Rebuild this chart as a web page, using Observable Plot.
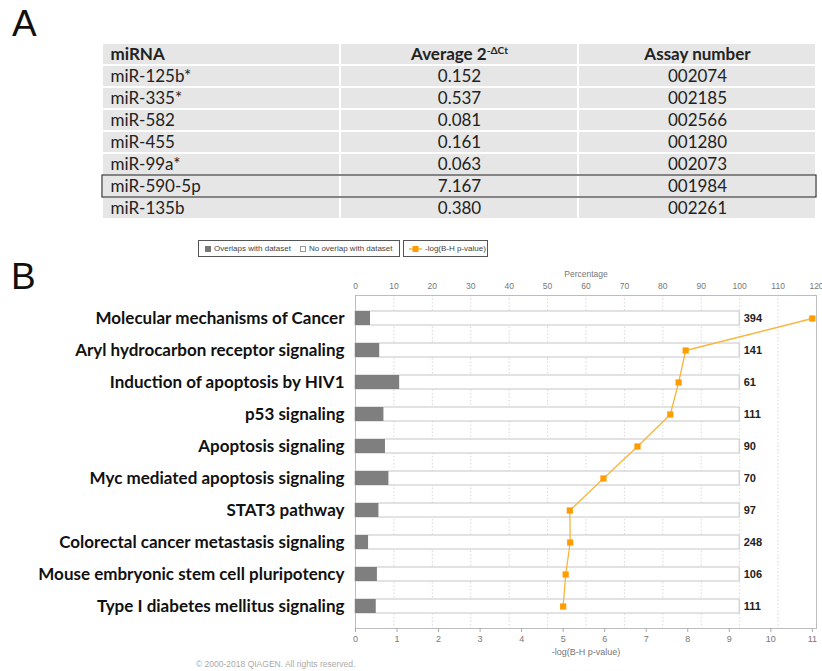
<!DOCTYPE html>
<html>
<head>
<meta charset="utf-8">
<script src="https://cdn.jsdelivr.net/npm/d3@7"></script>
<script src="https://cdn.jsdelivr.net/npm/@observablehq/plot@0.6"></script>
<style>
  html, body { margin: 0; padding: 0; background: #fff; }
  #page { position: relative; width: 822px; height: 671px; overflow: hidden; background: #fff; }
  .panel-letter { position: absolute; font-family: "Liberation Sans", Arial, sans-serif; font-size: 37px; line-height: 37px; color: #111; }
  #tableA { position: absolute; left: 0; top: 0; }
  #chartB { position: absolute; left: 0; top: 258px; }
  .lbox { position: absolute; top: 240px; height: 17px; border: 1px solid #555; box-sizing: border-box;
          display: flex; align-items: center; font-family: "Liberation Sans", Arial, sans-serif; font-size: 8px; color: #444; white-space: nowrap; }
  .sw { display: inline-block; width: 6px; height: 6px; box-sizing: border-box; margin-right: 3px; }
  #copyright { position: absolute; left: 196px; top: 659px; font-family: "Liberation Sans", Arial, sans-serif; font-size: 8.5px; line-height: 10px; color: #aaa; white-space: nowrap; }
</style>
</head>
<body>
<div id="page">
  <div id="tableA"></div>
  <div id="chartB"></div>
  <div class="panel-letter" style="left:12px; top:5px;">A</div>
  <div class="panel-letter" style="left:11px; top:258px;">B</div>
  <div class="lbox" style="left:198px; width:202px; padding-left:6px;">
    <span class="sw" style="background:#777;"></span><span>Overlaps with dataset</span>
    <span class="sw" style="background:#fff; border:1px solid #999; margin-left:9px;"></span><span>No overlap with dataset</span>
  </div>
  <div class="lbox" style="left:403px; width:85px; padding-left:5px;">
    <svg width="13" height="8" style="margin-right:3px;"><line x1="0" y1="4" x2="13" y2="4" stroke="#f8b53c" stroke-width="1.5"/><rect x="3.5" y="1" width="6" height="6" fill="#ff9c00"/></svg><span>-log(B-H p-value)</span>
  </div>
  <div id="copyright">© 2000-2018 QIAGEN. All rights reserved.</div>
</div>
<script>
// ---------- Panel A data ----------
const tableColumns = ["miRNA", "Average 2", "Assay number"];
const mirnas = ["miR-125b*", "miR-335*", "miR-582", "miR-455", "miR-99a*", "miR-590-5p", "miR-135b"];
const avgDeltaCt = [0.152, 0.537, 0.081, 0.161, 0.063, 7.167, 0.380];
const assayNumbers = ["002074", "002185", "002566", "001280", "002073", "001984", "002261"];
const highlightedMirna = "miR-590-5p";

// ---------- Panel B data ----------
const pathways = [
  "Molecular mechanisms of Cancer",
  "Aryl hydrocarbon receptor signaling",
  "Induction of apoptosis by HIV1",
  "p53 signaling",
  "Apoptosis signaling",
  "Myc mediated apoptosis signaling",
  "STAT3 pathway",
  "Colorectal cancer metastasis signaling",
  "Mouse embryonic stem cell pluripotency",
  "Type I diabetes mellitus signaling"
];
const overlapPct = [3.9, 6.3, 11.5, 7.4, 7.8, 8.7, 6.1, 3.4, 5.7, 5.4];
const negLogP = [11.0, 7.95, 7.78, 7.58, 6.79, 5.97, 5.16, 5.17, 5.06, 5.0];
const moleculeCounts = [394, 141, 61, 111, 90, 70, 97, 248, 106, 111];
const pctTicks = [0, 10, 20, 30, 40, 50, 60, 70, 80, 90, 100, 110, 120];
const logTicks = [0, 1, 2, 3, 4, 5, 6, 7, 8, 9, 10, 11];
const pctMax = 120;
const logMax = 11.1;

// ---------- Panel A: table ----------
const rowKeys = ["header", ...mirnas];
const cells = [];
rowKeys.forEach((r, i) => {
  tableColumns.forEach((c, j) => {
    let text;
    if (r === "header") text = c;
    else if (j === 0) text = mirnas[i - 1];
    else if (j === 1) text = avgDeltaCt[i - 1].toFixed(3);
    else text = assayNumbers[i - 1];
    cells.push({row: r, col: c, text, header: r === "header"});
  });
});

const tableFont = "Lato, 'Open Sans', sans-serif";
const tFontSize = 17;
const tablePlot = Plot.plot({
  width: 822,
  height: 224,
  marginTop: 42,
  marginBottom: 4,
  marginLeft: 102,
  marginRight: 6,
  style: {background: "transparent", fontFamily: tableFont, fontSize: "17px", color: "#222"},
  x: {type: "band", domain: tableColumns, padding: 0, axis: null},
  y: {type: "band", domain: rowKeys, padding: 0, axis: null},
  marks: [
    Plot.cell(cells, {x: "col", y: "row", fill: "#e6e6e6", inset: 1}),
    // body rows
    Plot.text(cells.filter(d => !d.header && d.col === "miRNA"), {
      y: "row", text: "text", frameAnchor: "left", dx: 8, fill: "#222", fontSize: tFontSize
    }),
    Plot.text(cells.filter(d => !d.header && d.col !== "miRNA"), {
      x: "col", y: "row", text: "text", fill: "#222", fontSize: tFontSize
    }),
    // header row
    Plot.text(cells.filter(d => d.header && d.col === "miRNA"), {
      y: "row", text: "text", frameAnchor: "left", dx: 8, fill: "#222", fontWeight: "bold", fontSize: tFontSize
    }),
    Plot.text(cells.filter(d => d.header && d.col !== "miRNA"), {
      x: "col", y: "row", text: "text", fill: "#222", fontWeight: "bold", fontSize: tFontSize
    }),
    Plot.cell([highlightedMirna], {y: d => d, fill: "none", stroke: "#333", strokeWidth: 1.2})
  ]
});
// superscript for header "Average 2^-ΔCt"
d3.select(tablePlot).selectAll("text")
  .filter(function() { return this.textContent === "Average 2"; })
  .append("tspan").attr("dy", "-0.55em").attr("font-size", "0.6em").text("-ΔCt");
document.getElementById("tableA").appendChild(tablePlot);

// ---------- Panel B: chart ----------
const rows = pathways.map((p, i) => ({
  pathway: p, overlap: overlapPct[i], negLogP: negLogP[i], count: moleculeCounts[i]
}));
const K = pctMax / logMax; // percent units per -log(p) unit (secondary axis)

const chart = Plot.plot({
  width: 822,
  height: 400,
  marginLeft: 355,
  marginRight: 6,
  marginTop: 37,
  marginBottom: 30,
  style: {background: "transparent", fontFamily: "'Liberation Sans', Arial, sans-serif", fontSize: "8px", color: "#777"},
  x: {domain: [0, pctMax], axis: null},
  y: {type: "band", domain: pathways, paddingInner: 0.57, paddingOuter: 0.42, axis: null},
  marks: [
    Plot.ruleX(pctTicks.filter(t => t > 0), {stroke: "#d9d9d9", strokeDasharray: "1.5,2"}),
    Plot.frame({stroke: "#bdbdbd"}),
    Plot.barX(rows, {x1: 0, x2: 100, y: "pathway", fill: "white", stroke: "#c6c6c6"}),
    Plot.barX(rows, {x1: 0, x2: "overlap", y: "pathway", fill: "#7f7f7f"}),
    Plot.text(rows, {x: 100, y: "pathway", text: d => String(d.count), dx: 4, textAnchor: "start",
      fontWeight: "bold", fontSize: 11, fill: "#222"}),
    Plot.text(rows, {x: 0, y: "pathway", text: "pathway", dx: -11, textAnchor: "end",
      fontWeight: "bold", fontSize: 17, fill: "#111", fontFamily: "Lato, 'Open Sans', sans-serif"}),
    Plot.line(rows, {x: d => d.negLogP * K, y: "pathway", stroke: "#f8b53c", strokeWidth: 1.3}),
    Plot.dot(rows, {x: d => d.negLogP * K, y: "pathway", symbol: "square", r: 3.5, fill: "#ff9c00", stroke: "none"}),
    Plot.axisX(pctTicks, {anchor: "top", tickSize: 0, tickPadding: 7, fill: "#777", fontSize: 8.5,
      label: "Percentage", labelAnchor: "center", labelOffset: 25, labelArrow: "none"}),
    Plot.axisX(logTicks.map(t => t * K), {anchor: "bottom", tickSize: 4, stroke: "#aaa", tickPadding: 3, fill: "#777", fontSize: 9,
      tickFormat: d => String(Math.round(d / K)),
      label: "-log(B-H p-value)", labelAnchor: "center", labelOffset: 26, labelArrow: "none"})
  ]
});
document.getElementById("chartB").appendChild(chart);
</script>
</body>
</html>
